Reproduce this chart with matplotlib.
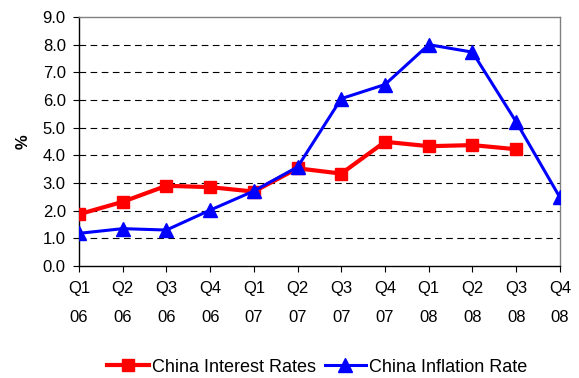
import matplotlib.pyplot as plt

plt.rcParams['font.family'] = ['Liberation Sans', 'DejaVu Sans']

quarters = ['Q1\n06', 'Q2\n06', 'Q3\n06', 'Q4\n06',
            'Q1\n07', 'Q2\n07', 'Q3\n07', 'Q4\n07',
            'Q1\n08', 'Q2\n08', 'Q3\n08', 'Q4\n08']
interest = [1.87, 2.32, 2.90, 2.85, 2.69, 3.53, 3.34, 4.49, 4.33, 4.37, 4.22]
inflation = [1.18, 1.35, 1.30, 2.02, 2.71, 3.58, 6.05, 6.56, 8.00, 7.73, 5.21, 2.48]

fig = plt.figure(figsize=(5.79, 3.78), dpi=100)
ax = fig.add_axes([0.1364, 0.2963, 0.967 - 0.1364, 0.955 - 0.2963])

x = list(range(len(quarters)))
ax.plot(x[:len(interest)], interest, color='#ff0000', lw=3, marker='s',
        markersize=8.5, label='China Interest Rates', zorder=3)
ax.plot(x, inflation, color='#0000ff', lw=2.2, marker='^',
        markersize=10, label='China Inflation Rate', zorder=4)

ax.set_xlim(0, 11)
ax.set_ylim(0, 9)
ax.set_yticks([i for i in range(10)])
ax.set_yticklabels(['%.1f' % i for i in range(10)], fontsize=12)
ax.set_xticks(x)
ax.set_xticklabels(quarters, fontsize=12, linespacing=2.15)
ax.tick_params(axis='x', direction='out', length=4, pad=7)
ax.tick_params(axis='y', direction='out', length=4.5, pad=5)

for y in range(1, 9):
    ax.axhline(y, color='black', lw=0.8, ls=(0, (6, 4)), zorder=1)

ax.spines['top'].set_color('#808080')
ax.spines['right'].set_color('#808080')
ax.spines['left'].set_color('black')
ax.spines['bottom'].set_color('black')
for s in ax.spines.values():
    s.set_linewidth(1)

ax.set_ylabel('%', fontsize=12, fontweight='bold', labelpad=9)

fig.legend(loc='center', bbox_to_anchor=(0.548, 0.029), ncol=2, frameon=False,
           fontsize=13, handlelength=2.3, handletextpad=0.15, columnspacing=0.5)

fig.savefig('out.png', dpi=100)
